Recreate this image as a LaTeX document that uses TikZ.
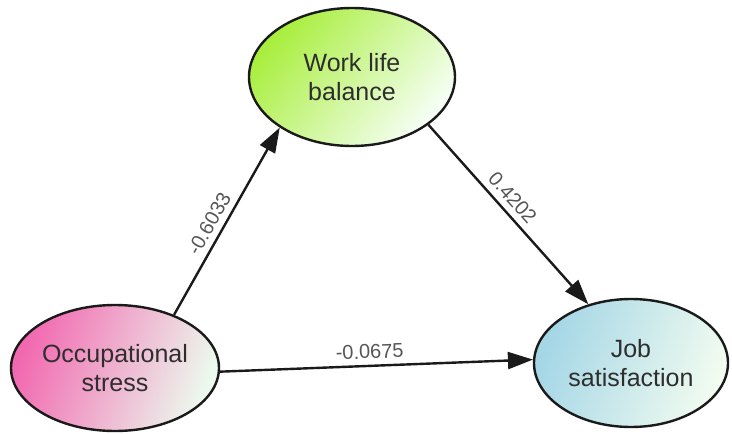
\documentclass[tikz,border=0pt]{standalone}
\usepackage{fontspec}
\setmainfont{Liberation Sans}
\usetikzlibrary{shapes.geometric,arrows.meta}
\definecolor{txt}{HTML}{2E2E2E}
\definecolor{lbl}{HTML}{555555}
\definecolor{edge}{HTML}{1A1A1A}
\begin{document}
\begin{tikzpicture}[x=1pt,y=-1pt,
  construct/.style={ellipse, draw=edge, line width=2.4pt, inner sep=0pt,
    align=center, text=txt, font=\fontsize{25}{28.5}\selectfont},
  path/.style={draw=edge, line width=2.4pt,
    -{Triangle[length=25pt,width=17pt]}},
  coef/.style={sloped, above, inner sep=6pt, text=lbl,
    font=\fontsize{20}{23}\selectfont}]
  \useasboundingbox (0,0) rectangle (732,434);

  % constructs
  \node[construct, minimum width=206pt, minimum height=138pt,
        top color={rgb,255:red,168;green,238;blue,60}, bottom color={rgb,255:red,246;green,255;blue,246},
        shading angle=50] (wlb) at (352,77) {Work life\\balance};
  \node[construct, minimum width=208pt, minimum height=126pt,
        top color={rgb,255:red,242;green,104;blue,176}, bottom color={rgb,255:red,236;green,250;blue,238},
        shading angle=70] (os) at (115,368) {Occupational\\stress};
  \node[construct, minimum width=194pt, minimum height=128pt,
        top color={rgb,255:red,164;green,214;blue,230}, bottom color={rgb,255:red,242;green,252;blue,240},
        shading angle=70] (js) at (631,363) {Job\\satisfaction};

  % structural paths
  \draw[path] (os.42) -- node[coef, pos=0.45] {-0.6033} (wlb.215);
  \draw[path] (wlb.328) -- node[coef, pos=0.46] {0.4202} (js.126);
  \draw[path] (os.-2) -- node[coef, pos=0.48] {-0.0675} (js.178);
\end{tikzpicture}
\end{document}
